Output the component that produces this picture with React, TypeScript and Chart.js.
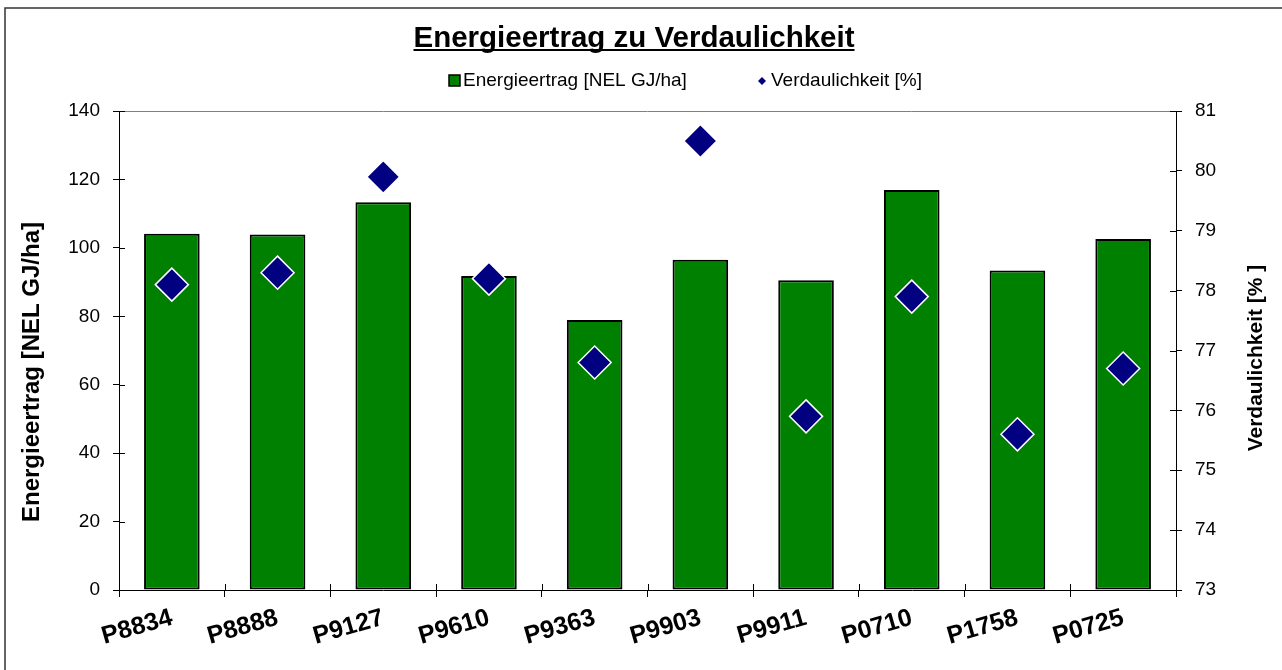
import React, { useEffect, useRef } from 'react';
import { Chart, registerables } from 'chart.js';

Chart.register(...registerables);

const categories = ['P8834', 'P8888', 'P9127', 'P9610', 'P9363', 'P9903', 'P9911', 'P0710', 'P1758', 'P0725'];
const energieertrag = [104.1, 103.9, 113.3, 91.8, 78.9, 96.5, 90.5, 116.9, 93.4, 102.6];
const verdaulichkeit = [78.1, 78.3, 79.9, 78.2, 76.8, 80.5, 75.9, 77.9, 75.6, 76.7];
const leftTicks = [0, 20, 40, 60, 80, 100, 120, 140];
const rightTicks = [73, 74, 75, 76, 77, 78, 79, 80, 81];

const chartTitle = 'Energieertrag zu Verdaulichkeit';
const barLabel = 'Energieertrag [NEL GJ/ha]';
const pointLabel = 'Verdaulichkeit [%]';
const leftAxisTitle = 'Energieertrag [NEL GJ/ha]';
const rightAxisTitle = 'Verdaulichkeit [% ]';

const FONT = '"Liberation Sans", Arial, sans-serif';
const GREEN = '#008000';
const NAVY = '#000080';

const decor = {
  id: 'decor',
  afterDraw(chart: any) {
    const ctx = chart.ctx as CanvasRenderingContext2D;
    const area = chart.chartArea;
    const x = chart.scales.x;
    const y = chart.scales.y;
    const y2 = chart.scales.y2;
    ctx.save();

    // outer frame
    ctx.strokeStyle = '#333';
    ctx.lineWidth = 1.5;
    ctx.beginPath();
    ctx.moveTo(5, 700);
    ctx.lineTo(5, 8);
    ctx.lineTo(1300, 8);
    ctx.stroke();

    // top border of plot area
    ctx.strokeStyle = '#808080';
    ctx.lineWidth = 1;
    ctx.beginPath();
    ctx.moveTo(area.left, area.top + 0.5);
    ctx.lineTo(area.right, area.top + 0.5);
    ctx.stroke();

    // inward tick marks
    ctx.strokeStyle = '#000';
    ctx.lineWidth = 1;
    ctx.beginPath();
    leftTicks.forEach((v) => {
      const py = Math.round(y.getPixelForValue(v)) + 0.5;
      ctx.moveTo(area.left, py);
      ctx.lineTo(area.left + 6, py);
    });
    rightTicks.forEach((v) => {
      const py = Math.round(y2.getPixelForValue(v)) + 0.5;
      ctx.moveTo(area.right - 6, py);
      ctx.lineTo(area.right, py);
    });
    const n = categories.length;
    for (let i = 0; i <= n; i++) {
      const px = Math.round(x.left + (i * (x.right - x.left)) / n) + 0.5;
      ctx.moveTo(px, area.bottom - 6);
      ctx.lineTo(px, area.bottom);
    }
    ctx.stroke();

    // title
    ctx.fillStyle = '#000';
    ctx.font = `bold 29.5px ${FONT}`;
    ctx.textAlign = 'center';
    ctx.textBaseline = 'alphabetic';
    const tcx = 634;
    ctx.fillText(chartTitle, tcx, 47);
    const tw = ctx.measureText(chartTitle).width;
    ctx.fillRect(tcx - tw / 2, 49, tw, 2);

    // legend
    ctx.fillStyle = GREEN;
    ctx.fillRect(449, 75, 11, 11);
    ctx.strokeStyle = '#000';
    ctx.lineWidth = 1.5;
    ctx.strokeRect(449, 75, 11, 11);
    ctx.fillStyle = '#000';
    ctx.font = `19px ${FONT}`;
    ctx.textAlign = 'left';
    ctx.textBaseline = 'middle';
    ctx.fillText(barLabel, 463, 81);
    ctx.fillStyle = NAVY;
    ctx.beginPath();
    ctx.moveTo(762, 77);
    ctx.lineTo(766, 81);
    ctx.lineTo(762, 85);
    ctx.lineTo(758, 81);
    ctx.closePath();
    ctx.fill();
    ctx.fillStyle = '#000';
    ctx.fillText(pointLabel, 771, 81);

    // axis titles
    ctx.textAlign = 'center';
    ctx.textBaseline = 'middle';
    ctx.save();
    ctx.translate(32, 372);
    ctx.rotate(-Math.PI / 2);
    ctx.font = `bold 24px ${FONT}`;
    ctx.fillText(leftAxisTitle, 0, 0);
    ctx.restore();
    ctx.save();
    ctx.translate(1256, 358);
    ctx.rotate(-Math.PI / 2);
    ctx.font = `bold 21px ${FONT}`;
    ctx.fillText(rightAxisTitle, 0, 0);
    ctx.restore();

    ctx.restore();
  },
};

export default function App() {
  const ref = useRef<HTMLCanvasElement | null>(null);

  useEffect(() => {
    if (!ref.current) return;
    const chart = new Chart(ref.current, {
      type: 'bar',
      data: {
        labels: categories,
        datasets: [
          {
            type: 'line',
            label: pointLabel,
            data: verdaulichkeit,
            yAxisID: 'y2',
            showLine: false,
            pointStyle: 'rectRot',
            pointRadius: 16.5,
            pointBackgroundColor: NAVY,
            pointBorderColor: '#ffffff',
            pointBorderWidth: 1.5,
            backgroundColor: NAVY,
            borderColor: '#ffffff',
            order: 0,
          } as any,
          {
            type: 'bar',
            label: barLabel,
            data: energieertrag,
            yAxisID: 'y',
            backgroundColor: GREEN,
            borderColor: '#000000',
            borderWidth: 2,
            borderSkipped: false,
            barPercentage: 0.526,
            categoryPercentage: 1,
            order: 1,
          } as any,
        ],
      },
      options: {
        responsive: false,
        animation: false,
        layout: { padding: { top: 111, left: 0, right: 0, bottom: 0 } },
        plugins: {
          legend: { display: false },
          title: { display: false },
          tooltip: { enabled: false },
        },
        scales: {
          x: {
            type: 'category',
            offset: true,
            grid: { display: true, drawOnChartArea: false, drawTicks: true, tickLength: 7, color: '#000', offset: true },
            border: { display: true, color: '#000', width: 1 },
            ticks: {
              autoSkip: false,
              minRotation: 16,
              maxRotation: 16,
              color: '#000',
              padding: 6,
              font: { family: FONT, size: 25, weight: 'bold' },
            },
            afterFit: (s: any) => {
              s.height = 80;
            },
          },
          y: {
            type: 'linear',
            position: 'left',
            min: 0,
            max: 140,
            ticks: {
              stepSize: 20,
              color: '#000',
              padding: 13,
              font: { family: FONT, size: 19 },
            },
            grid: { display: true, drawOnChartArea: false, drawTicks: true, tickLength: 6, color: '#000' },
            border: { display: true, color: '#000', width: 1 },
            afterFit: (s: any) => {
              s.width = 119;
            },
          },
          y2: {
            type: 'linear',
            position: 'right',
            min: 73,
            max: 81,
            ticks: {
              stepSize: 1,
              color: '#000',
              padding: 13,
              font: { family: FONT, size: 19 },
            },
            grid: { display: true, drawOnChartArea: false, drawTicks: true, tickLength: 6, color: '#000' },
            border: { display: true, color: '#000', width: 1 },
            afterFit: (s: any) => {
              s.width = 106;
            },
          },
        },
      } as any,
      plugins: [decor],
    });
    return () => chart.destroy();
  }, []);

  return (
    <div style={{ position: 'fixed', left: 0, top: 0, width: 1282, height: 670, background: '#fff' }}>
      <canvas ref={ref} width={1282} height={670} style={{ display: 'block', width: 1282, height: 670 }} />
    </div>
  );
}
